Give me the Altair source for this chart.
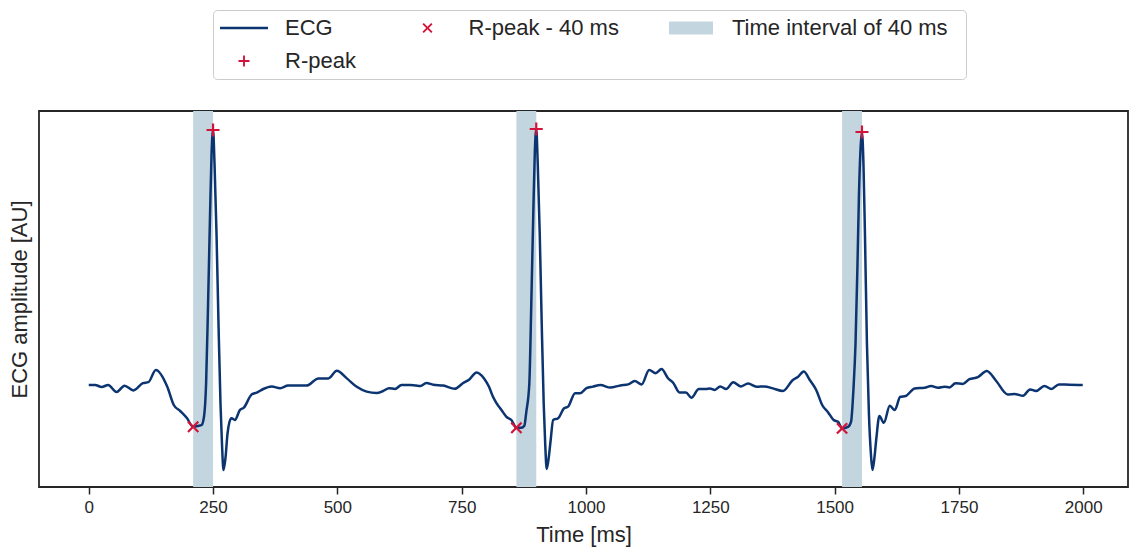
import math

import altair as alt
import pandas as pd

# ECG trace: time in ms, amplitude in arbitrary units
time_ms = [
    0, 13, 26, 39, 56, 72, 90, 109, 120, 135, 158, 171, 184, 197, 210, 220, 227, 232,
    236, 240, 244, 247, 250, 253, 257, 261, 265, 268, 271, 275, 279, 283, 287, 294,
    304, 312, 328, 338, 351, 368, 385, 401, 418, 438, 462, 482, 499, 519, 539, 559,
    579, 592, 604, 616, 629, 646, 658, 667, 679, 693, 713, 736, 753, 766, 780, 795,
    805, 813, 820, 830, 840, 850, 860, 870, 876, 880, 886, 890, 894, 897, 900, 903,
    907, 911, 915, 918, 921, 925, 929, 934, 944, 956, 964, 978, 988, 1001, 1014, 1029,
    1049, 1069, 1085, 1098, 1112, 1127, 1140, 1152, 1165, 1176, 1188, 1201, 1212, 1227,
    1241, 1249, 1259, 1270, 1282, 1296, 1311, 1326, 1343, 1359, 1376, 1396, 1416, 1426,
    1438, 1450, 1463, 1475, 1487, 1498, 1507, 1515, 1527, 1533, 1538, 1542, 1546, 1549,
    1552, 1555, 1558, 1561, 1565, 1569, 1573, 1576, 1580, 1584, 1590, 1599, 1611, 1621,
    1632, 1643, 1661, 1681, 1694, 1708, 1721, 1731, 1743, 1758, 1771, 1788, 1806, 1825,
    1848, 1862, 1879, 1893, 1905, 1922, 1936, 1951, 1972, 1999,
]
amplitude = [
    -0.005, -0.005, -0.015, -0.005, -0.040, -0.009, -0.032, 0.004, 0.009, 0.070, -0.014,
    -0.105, -0.135, -0.169, -0.214, -0.210, -0.205, -0.160,
    0.000, 0.400, 0.850, 1.150, 1.270, 1.100, 0.750, 0.300, -0.100, -0.300, -0.430, -0.370,
    -0.250, -0.190, -0.171, -0.180,
    -0.130, -0.118, -0.051, -0.043, -0.025, -0.013, -0.021, -0.008, -0.008, -0.008, 0.028,
    0.028, 0.066, 0.028, -0.014, -0.038,
    -0.045, -0.035, -0.021, -0.025, -0.005, -0.005, -0.008, -0.010, 0.005, -0.004, -0.008,
    -0.024, 0.005, 0.024, 0.058, 0.028,
    -0.014, -0.064, -0.096, -0.130, -0.164, -0.180, -0.219, -0.219, -0.209, -0.139, 0.000,
    0.400, 0.850, 1.150, 1.275, 1.100,
    0.750, 0.300, -0.100, -0.300, -0.425, -0.370, -0.280, -0.180, -0.171, -0.121, -0.113,
    -0.046, -0.046, -0.021, -0.013, -0.005,
    -0.018, -0.007, -0.002, 0.015, -0.002, 0.070, 0.054, 0.075, 0.029, 0.004, -0.042,
    -0.042, -0.069, -0.025,
    -0.025, -0.022, -0.030, -0.012, -0.025, 0.009, -0.012, 0.002, -0.014, -0.012, -0.022,
    -0.035, 0.020, 0.035,
    0.062, 0.020, -0.030, -0.105, -0.142, -0.180, -0.189, -0.222, -0.214, -0.189, -0.020,
    0.200, 0.600, 0.950,
    1.170, 1.260, 1.100, 0.750, 0.200, -0.150, -0.350, -0.430, -0.370, -0.270, -0.160,
    -0.194, -0.109, -0.130,
    -0.064, -0.060, -0.022, -0.019, -0.010, -0.019, -0.014, -0.017, 0.004, 0.000, 0.024,
    0.034, 0.065, 0.015,
    -0.052, -0.050, -0.059, -0.027, -0.035, -0.010, -0.025, -0.002, -0.004, -0.005,
]

# Detected R-peaks and the samples 40 ms before them
r_peak_ms = [250, 900, 1555]
r_peak_amp = [1.270, 1.275, 1.260]
pre_peak_ms = [210, 860, 1515]
pre_peak_amp = [-0.214, -0.219, -0.222]

x_ticks = [0, 250, 500, 750, 1000, 1250, 1500, 1750, 2000]

NAVY = "#0b3470"
RED = "#d2143a"
BAND = "#c3d5df"
INK = "#262626"
FONT = "Liberation Sans"

LABEL_ECG = "ECG"
LABEL_PRE = "R-peak - 40 ms"
LABEL_BAND = "Time interval of 40 ms"
LABEL_PEAK = "R-peak"
legend_order = [LABEL_ECG, LABEL_PRE, LABEL_BAND, LABEL_PEAK]

ecg = pd.DataFrame({"t": time_ms, "amp": amplitude})
bands = pd.DataFrame({"start": pre_peak_ms, "end": r_peak_ms})
markers = pd.DataFrame({
    "t": r_peak_ms + pre_peak_ms,
    "amp": r_peak_amp + pre_peak_amp,
    "series": [LABEL_PEAK] * len(r_peak_ms) + [LABEL_PRE] * len(pre_peak_ms),
})


# ---- glyphs: filled outlines so legend and plot share one shape scale ----
def polygon(points):
    return "M" + "L".join(f"{x:.4f},{y:.4f}" for x, y in points) + "Z"


def plus_outline(arm, half):
    return [(-arm, -half), (-half, -half), (-half, -arm), (half, -arm), (half, -half),
            (arm, -half), (arm, half), (half, half), (half, arm), (-half, arm),
            (-half, half), (-arm, half)]


def rotate45(points):
    s = math.sqrt(0.5)
    return [((x - y) * s, (x + y) * s) for x, y in points]


def sliver(x):
    # practically invisible speck that only widens a glyph's bounding box
    return polygon([(x, 0), (x - 0.001, 0), (x, 0.001)])


def handle_box(width):
    # every legend handle spans the same width
    return sliver(-width) + sliver(width)


STROKE_HALF = 0.085
plus_path = polygon(plus_outline(0.5, STROKE_HALF)) + handle_box(2.0)
cross_path = polygon(rotate45(plus_outline(0.56, STROKE_HALF))) + handle_box(2.0)
line_path = polygon([(-2.18, -0.118), (2.18, -0.118), (2.18, 0.118), (-2.18, 0.118)])
# last legend column: the speck on the right gives the frame its right margin
rect_path = polygon([(-2.0, -0.6), (2.0, -0.6), (2.0, 0.6), (-2.0, 0.6)]) + sliver(24.3)

x_scale = alt.Scale(domain=[-100, 2090], nice=False, zero=False)
y_scale = alt.Scale(domain=[-0.515, 1.365], nice=False, zero=False)

x_axis = alt.Axis(
    values=x_ticks, format="d", title="Time [ms]", grid=False, domain=False,
    tickSize=7, tickWidth=1.5, tickColor=INK, labelColor=INK,
    labelFontSize=17, titleFontSize=22, titleFontWeight="normal", titleColor=INK,
    labelPadding=5, titlePadding=9,
)
y_axis = alt.Axis(
    title="ECG amplitude [AU]", labels=False, ticks=False, grid=False, domain=False,
    titleFontSize=22, titleFontWeight="normal", titleColor=INK, titlePadding=8,
)

legend = alt.Legend(
    title=None,
    values=legend_order,
    orient="none",
    direction="horizontal",
    legendX=174,
    legendY=-101,
    columns=3,
    labelFont=FONT,
    labelFontSize=22,
    labelColor=INK,
    labelLimit=400,
    labelOffset=30,
    symbolSize=484,
    symbolStrokeWidth=0,
    symbolOffset=13,
    columnPadding=47.5,
    rowPadding=11,
    padding=7,
    strokeColor="#cccccc",
    fillColor="white",
    cornerRadius=4,
)

band_layer = alt.Chart(bands).mark_rect(color=BAND, opacity=1).encode(
    x=alt.X("start:Q", scale=x_scale, axis=x_axis),
    x2="end:Q",
)

line_layer = alt.Chart(ecg).mark_line(
    color=NAVY, strokeWidth=2.5, interpolate="monotone"
).encode(
    x=alt.X("t:Q", scale=x_scale, axis=x_axis),
    y=alt.Y("amp:Q", scale=y_scale, axis=y_axis),
)

marker_layer = alt.Chart(markers).mark_point(
    filled=True, size=676, strokeWidth=0, opacity=1
).encode(
    x=alt.X("t:Q", scale=x_scale, axis=x_axis),
    y=alt.Y("amp:Q", scale=y_scale, axis=y_axis),
    color=alt.Color(
        "series:N",
        scale=alt.Scale(domain=legend_order, range=[NAVY, RED, BAND, RED]),
        legend=legend,
    ),
    shape=alt.Shape(
        "series:N",
        scale=alt.Scale(domain=legend_order,
                        range=[line_path, cross_path, rect_path, plus_path]),
        legend=legend,
    ),
)

chart = alt.layer(band_layer, line_layer, marker_layer).properties(
    width=1089,
    height=376,
    autosize=alt.AutoSizeParams(type="none"),
    padding={"left": 39, "top": 111, "right": 1, "bottom": 60},
    background="white",
).configure(
    font=FONT,
).configure_view(
    stroke=INK,
    strokeWidth=1.8,
    fill="white",
)

chart.save("out.html", embed_options={"renderer": "svg", "actions": False})
